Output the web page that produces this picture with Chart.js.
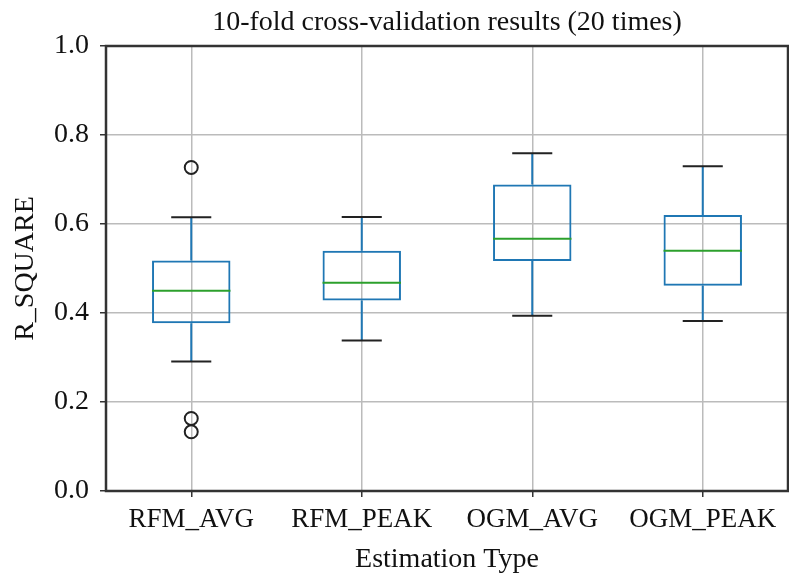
<!DOCTYPE html>
<html>
<head>
<meta charset="utf-8">
<script src="https://cdn.jsdelivr.net/npm/chart.js@4.4.0/dist/chart.umd.min.js"></script>
<style>
  body { margin: 0; background: #fff; }
  #wrap { width: 789px; height: 579px; }
</style>
</head>
<body>
<div id="wrap"><canvas id="boxChart"></canvas></div>
<script>
// categorias e estatisticas
const categories = ['RFM_AVG', 'RFM_PEAK', 'OGM_AVG', 'OGM_PEAK'];
const lowerWhisker = [0.291, 0.338, 0.394, 0.382];
const q1Values = [0.377, 0.428, 0.517, 0.461];
const medianValues = [0.450, 0.468, 0.567, 0.540];
const q3Values = [0.518, 0.540, 0.689, 0.620];
const upperWhisker = [0.615, 0.616, 0.759, 0.730];
const outliers = [
    { x: 'RFM_AVG', y: 0.727 },
    { x: 'RFM_AVG', y: 0.163 },
    { x: 'RFM_AVG', y: 0.133 }
];
const yTicks = [0.0, 0.2, 0.4, 0.6, 0.8, 1.0];

const serif = '"Liberation Serif", "DejaVu Serif", serif';
const boxBlue = '#1f77b4';
const medianGreen = '#2ca02c';

// bigodes, tampas, mediana e moldura
const boxExtras = {
    id: 'boxExtras',
    afterDatasetsDraw(chart) {
        const ctx = chart.ctx;
        const x = chart.scales.x;
        const y = chart.scales.y;
        const step = x.getPixelForValue(1) - x.getPixelForValue(0);
        const boxHalf = step * 0.46 / 2;
        const capHalf = step * 0.235 / 2;
        ctx.save();
        ctx.lineWidth = 2;
        categories.forEach((c, i) => {
            const cx = x.getPixelForValue(i);
            // whiskers
            ctx.strokeStyle = boxBlue;
            ctx.beginPath();
            ctx.moveTo(cx, y.getPixelForValue(q3Values[i]));
            ctx.lineTo(cx, y.getPixelForValue(upperWhisker[i]));
            ctx.moveTo(cx, y.getPixelForValue(q1Values[i]));
            ctx.lineTo(cx, y.getPixelForValue(lowerWhisker[i]));
            ctx.stroke();
            // caps
            ctx.strokeStyle = '#222';
            ctx.beginPath();
            ctx.moveTo(cx - capHalf, y.getPixelForValue(upperWhisker[i]));
            ctx.lineTo(cx + capHalf, y.getPixelForValue(upperWhisker[i]));
            ctx.moveTo(cx - capHalf, y.getPixelForValue(lowerWhisker[i]));
            ctx.lineTo(cx + capHalf, y.getPixelForValue(lowerWhisker[i]));
            ctx.stroke();
            // median
            ctx.strokeStyle = medianGreen;
            ctx.beginPath();
            ctx.moveTo(cx - boxHalf, y.getPixelForValue(medianValues[i]));
            ctx.lineTo(cx + boxHalf, y.getPixelForValue(medianValues[i]));
            ctx.stroke();
        });
        const a = chart.chartArea;
        ctx.strokeStyle = '#333';
        ctx.lineWidth = 2.5;
        ctx.strokeRect(a.left, a.top, a.right - a.left, a.bottom - a.top);
        ctx.restore();
    }
};

const ctx = document.getElementById('boxChart').getContext('2d');
new Chart(ctx, {
    data: {
        labels: categories,
        datasets: [{
            type: 'bar',
            label: 'box',
            data: q1Values.map((v, i) => [v, q3Values[i]]),
            backgroundColor: 'rgba(0,0,0,0)',
            borderColor: boxBlue,
            borderWidth: 2,
            borderSkipped: false,
            barPercentage: 0.46,
            categoryPercentage: 1.0
        }, {
            type: 'line',
            label: 'outliers',
            data: outliers,
            showLine: false,
            pointStyle: 'circle',
            pointRadius: 6.5,
            pointBorderWidth: 2,
            pointBorderColor: '#222',
            pointBackgroundColor: 'rgba(0,0,0,0)'
        }]
    },
    options: {
        responsive: true,
        maintainAspectRatio: false,
        animation: false,
        layout: { autoPadding: false, padding: { left: 0, right: 1, top: 0, bottom: 0 } },
        plugins: {
            legend: { display: false },
            tooltip: { enabled: false },
            title: {
                display: true,
                text: '10-fold cross-validation results (20 times)',
                fullSize: false,
                color: '#111',
                font: { family: serif, size: 28, weight: 'normal' },
                padding: { top: 6, bottom: 6.4 }
            }
        },
        scales: {
            x: {
                offset: true,
                grid: { color: '#bbb', lineWidth: 1.5, tickLength: 6, tickColor: '#333', offset: false },
                border: { display: false },
                ticks: { color: '#111', font: { family: serif, size: 27 }, padding: 7, maxRotation: 0 },
                title: { display: true, text: 'Estimation Type', color: '#111', font: { family: serif, size: 28 }, padding: { top: 2, bottom: 3 } },
                afterFit(scale) {
                    scale.height = 88;
                    scale.paddingLeft = 0;
                    scale.paddingRight = 0;
                }
            },
            y: {
                min: 0,
                max: 1,
                afterBuildTicks(scale) { scale.ticks = yTicks.map(v => ({ value: v })); },
                grid: { color: '#bbb', lineWidth: 1.5, tickLength: 6, tickColor: '#333' },
                border: { display: false },
                ticks: { color: '#111', font: { family: serif, size: 28 }, padding: 11, callback: v => v.toFixed(1) },
                title: { display: true, text: 'R_SQUARE', color: '#111', font: { family: serif, size: 28 }, padding: { top: 9, bottom: 4 } },
                afterFit(scale) {
                    scale.width = 106;
                    scale.paddingTop = 0;
                    scale.paddingBottom = 0;
                }
            }
        }
    },
    plugins: [boxExtras]
});
</script>
</body>
</html>
